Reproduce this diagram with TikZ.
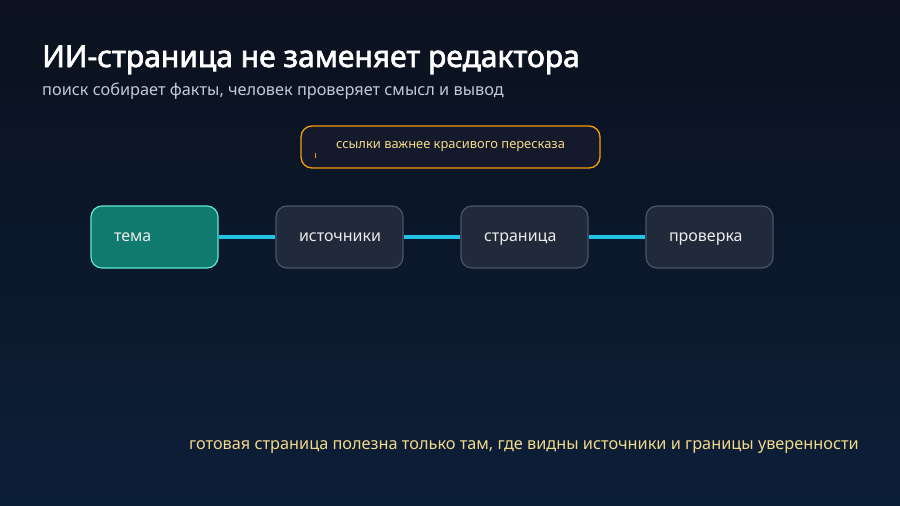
\documentclass[tikz,border=0pt]{standalone}
\usepackage{fontspec}
\setmainfont{Noto Sans}
\newfontfamily\titlefont[FakeBold=2.2]{Noto Sans}
\definecolor{bgtop}{HTML}{0B111E}
\definecolor{bgbot}{HTML}{0C1F38}
\definecolor{boxfill}{HTML}{212A3A}
\definecolor{boxline}{HTML}{4A5568}
\definecolor{tealfill}{HTML}{117A6E}
\definecolor{tealline}{HTML}{5EEAD4}
\definecolor{linkcol}{HTML}{22C3E6}
\definecolor{note}{HTML}{F59E0B}
\definecolor{notefill}{HTML}{141A2B}
\definecolor{notetext}{HTML}{F3D98A}
\definecolor{subtext}{HTML}{C2CAD6}
\tikzset{
	stage/.style={draw=boxline, fill=boxfill, line width=1.2pt, rounded corners=11pt,
		minimum width=127pt, minimum height=62pt, inner xsep=23pt, text width=81pt, align=left,
		text height=12pt, text depth=3pt,
		text=white!92!black, font=\fontsize{16}{19}\selectfont},
	firststage/.style={stage, draw=tealline, fill=tealfill},
	link/.style={draw=linkcol, line width=3.5pt},
}
\begin{document}
\begin{tikzpicture}[x=1pt, y=-1pt]
	\shade[top color=bgtop, bottom color=bgbot] (0,0) rectangle (900,506);
	\useasboundingbox (0,0) rectangle (900,506);
	\node[anchor=base west, text=white, font=\titlefont\fontsize{30}{34}\selectfont, inner sep=0] (title) at (42,67) {ИИ-страница не заменяет редактора};
	\node[anchor=base west, text=subtext, font=\fontsize{16.3}{19}\selectfont, inner sep=0] (sub) at (42,95) {поиск собирает факты, человек проверяет смысл и вывод};
	\node[draw=note, fill=notefill, line width=1.3pt, rounded corners=11pt, minimum width=299pt, minimum height=42pt,
		text=notetext, font=\fontsize{12.9}{15}\selectfont] (note) at (450.5,147) {ссылки важнее красивого пересказа};
	\draw[note, line width=0.8pt] (315,153) -- (315,158);
	\node[firststage] (tema) at (154.5,237) {тема};
	\node[stage] (src) at (339.5,237) {источники};
	\node[stage] (page) at (524.5,237) {страница};
	\node[stage] (check) at (709.5,237) {проверка};
	\draw[link] (tema) -- (src);
	\draw[link] (src) -- (page);
	\draw[link] (page) -- (check);
	\node[anchor=base east, text=notetext, font=\fontsize{16.3}{19}\selectfont, inner sep=0] (foot) at (859,449) {готовая страница полезна только там, где видны источники и границы уверенности};
\end{tikzpicture}
\end{document}
